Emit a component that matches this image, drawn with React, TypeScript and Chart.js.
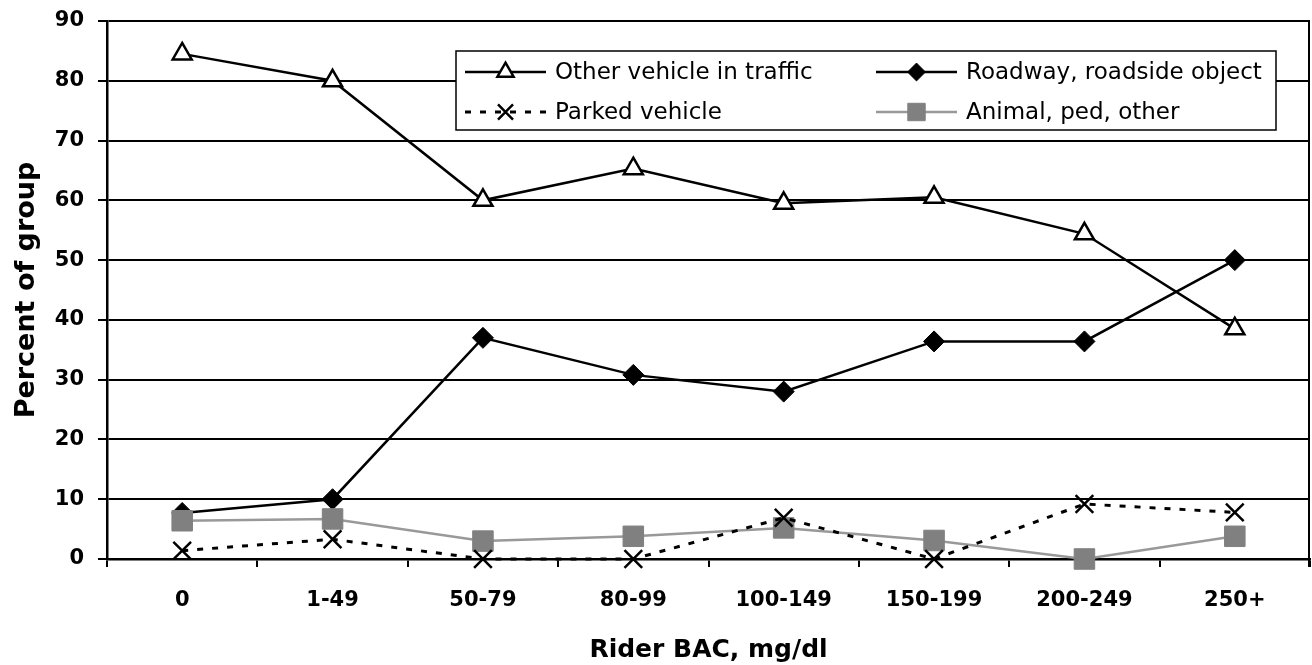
import React, { useEffect, useRef } from "react";
import { Chart, registerables } from "chart.js";
import { drawPoint } from "chart.js/helpers";

Chart.register(...registerables);

const categories = ["0", "1-49", "50-79", "80-99", "100-149", "150-199", "200-249", "250+"];
const otherVehicle = [84.5, 80.0, 60.0, 65.3, 59.5, 60.5, 54.4, 38.5];
const roadway = [7.7, 10.0, 37.0, 30.8, 28.0, 36.4, 36.4, 50.0];
const parked = [1.4, 3.3, 0, 0, 6.9, 0, 9.2, 7.8];
const animal = [6.4, 6.7, 3.0, 3.8, 5.2, 3.1, 0, 3.8];
const seriesNames = [
  "Other vehicle in traffic",
  "Roadway, roadside object",
  "Parked vehicle",
  "Animal, ped, other",
];
const yMin = 0;
const yMax = 90;
const yStep = 10;
const xTitle = "Rider BAC, mg/dl";
const yTitle = "Percent of group";

const FONT = "'DejaVu Sans', 'Liberation Sans', Arial, sans-serif";

const boxLegend = {
  id: "boxLegend",
  afterDraw(chart: any) {
    const ctx = chart.ctx as CanvasRenderingContext2D;
    const box = { l: 456, t: 51, r: 1276, b: 130 };
    ctx.save();
    ctx.fillStyle = "#ffffff";
    ctx.fillRect(box.l, box.t, box.r - box.l, box.b - box.t);
    ctx.strokeStyle = "#000000";
    ctx.lineWidth = 1.5;
    ctx.strokeRect(box.l, box.t, box.r - box.l, box.b - box.t);
    const slots = [
      { ds: 0, x: 465, y: 72 },
      { ds: 1, x: 876, y: 72 },
      { ds: 2, x: 465, y: 112 },
      { ds: 3, x: 876, y: 112 },
    ];
    const lineLen = 81;
    ctx.font = `23px ${FONT}`;
    ctx.textBaseline = "middle";
    ctx.textAlign = "left";
    for (const s of slots) {
      const d: any = chart.data.datasets[s.ds];
      ctx.save();
      ctx.strokeStyle = d.borderColor;
      ctx.lineWidth = d.borderWidth;
      ctx.setLineDash(d.borderDash || []);
      ctx.beginPath();
      ctx.moveTo(s.x, s.y);
      ctx.lineTo(s.x + lineLen, s.y);
      ctx.stroke();
      ctx.setLineDash([]);
      ctx.fillStyle = d.pointBackgroundColor;
      ctx.strokeStyle = d.pointBorderColor;
      ctx.lineWidth = d.pointBorderWidth;
      drawPoint(ctx, {
        pointStyle: d.pointStyle,
        radius: d.pointRadius * 0.85,
        rotation: 0,
        borderWidth: d.pointBorderWidth,
      } as any, s.x + lineLen / 2, s.y);
      ctx.restore();
      ctx.fillStyle = "#000000";
      ctx.fillText(d.label, s.x + lineLen + 9, s.y + 1);
    }
    ctx.restore();
  },
};

const rightBorder = {
  id: "rightBorder",
  beforeDatasetsDraw(chart: any) {
    const { ctx, chartArea } = chart;
    ctx.save();
    ctx.strokeStyle = "#000000";
    ctx.lineWidth = 2;
    ctx.beginPath();
    ctx.moveTo(chartArea.right - 1, chartArea.top - 1);
    ctx.lineTo(chartArea.right - 1, chartArea.bottom + 8);
    ctx.stroke();
    ctx.restore();
  },
};

export default function App() {
  const ref = useRef<HTMLCanvasElement | null>(null);
  useEffect(() => {
    if (!ref.current) return;
    const chart = new Chart(ref.current, {
      type: "line",
      data: {
        labels: categories,
        datasets: [
          {
            label: seriesNames[0],
            data: otherVehicle,
            borderColor: "#000000",
            borderWidth: 2.5,
            pointStyle: "triangle",
            pointRadius: 11,
            pointBackgroundColor: "#ffffff",
            pointBorderColor: "#000000",
            pointBorderWidth: 2.5,
            clip: false,
            order: 0,
          },
          {
            label: seriesNames[1],
            data: roadway,
            borderColor: "#000000",
            borderWidth: 2.5,
            pointStyle: "rectRot",
            pointRadius: 10.5,
            pointBackgroundColor: "#000000",
            pointBorderColor: "#000000",
            pointBorderWidth: 1,
            clip: false,
            order: 3,
          },
          {
            label: seriesNames[2],
            data: parked,
            borderColor: "#000000",
            borderWidth: 3,
            borderDash: [6, 9],
            pointStyle: "crossRot",
            pointRadius: 12.5,
            pointBackgroundColor: "#000000",
            pointBorderColor: "#000000",
            pointBorderWidth: 2.5,
            clip: false,
            order: 1,
          },
          {
            label: seriesNames[3],
            data: animal,
            borderColor: "#999999",
            borderWidth: 2.5,
            pointStyle: "rect",
            pointRadius: 14.5,
            pointBackgroundColor: "#808080",
            pointBorderColor: "#808080",
            pointBorderWidth: 1,
            clip: false,
            order: 2,
          },
        ] as any,
      },
      options: {
        animation: false,
        responsive: false,
        devicePixelRatio: 1,
        layout: { autoPadding: false, padding: { left: 0, top: 21, right: 2, bottom: 0 } },
        plugins: { legend: { display: false }, tooltip: { enabled: false } },
        elements: { line: { tension: 0 } },
        scales: {
          x: {
            type: "category",
            offset: true,
            grid: {
              display: true,
              drawOnChartArea: false,
              drawTicks: true,
              tickLength: 8,
              color: "#000000",
              lineWidth: 2,
              offset: true,
            },
            border: { display: true, color: "#000000", width: 2.5 },
            ticks: {
              color: "#000000",
              font: { family: FONT, size: 21, weight: "bold" },
              padding: 21,
              maxRotation: 0,
              autoSkip: false,
            },
            title: {
              display: true,
              text: xTitle,
              color: "#000000",
              font: { family: FONT, size: 25, weight: "bold", lineHeight: 1.2 },
              padding: { top: 0, bottom: 0 },
            },
            afterFit: (s: any) => {
              s.height = 106;
              s.paddingLeft = 0;
              s.paddingRight = 0;
            },
          },
          y: {
            min: yMin,
            max: yMax,
            ticks: {
              stepSize: yStep,
              color: "#000000",
              font: { family: FONT, size: 21, weight: "bold" },
              padding: 14,
            },
            grid: {
              color: "#000000",
              lineWidth: 2,
              tickLength: 9,
              drawTicks: true,
            },
            border: { display: true, color: "#000000", width: 2.5 },
            title: {
              display: true,
              text: yTitle,
              color: "#000000",
              font: { family: FONT, size: 27, weight: "bold", lineHeight: 1.2 },
              padding: { top: 11, bottom: 0 },
            },
            afterFit: (s: any) => {
              s.width = 107;
              s.paddingTop = 0;
              s.paddingBottom = 0;
            },
          },
        },
      } as any,
      plugins: [rightBorder, boxLegend],
    });
    return () => chart.destroy();
  }, []);
  return (
    <div style={{ position: "absolute", left: 0, top: 0, width: 1312, height: 665, background: "#fff" }}>
      <canvas ref={ref} width={1312} height={665} style={{ display: "block", width: 1312, height: 665 }} />
    </div>
  );
}
